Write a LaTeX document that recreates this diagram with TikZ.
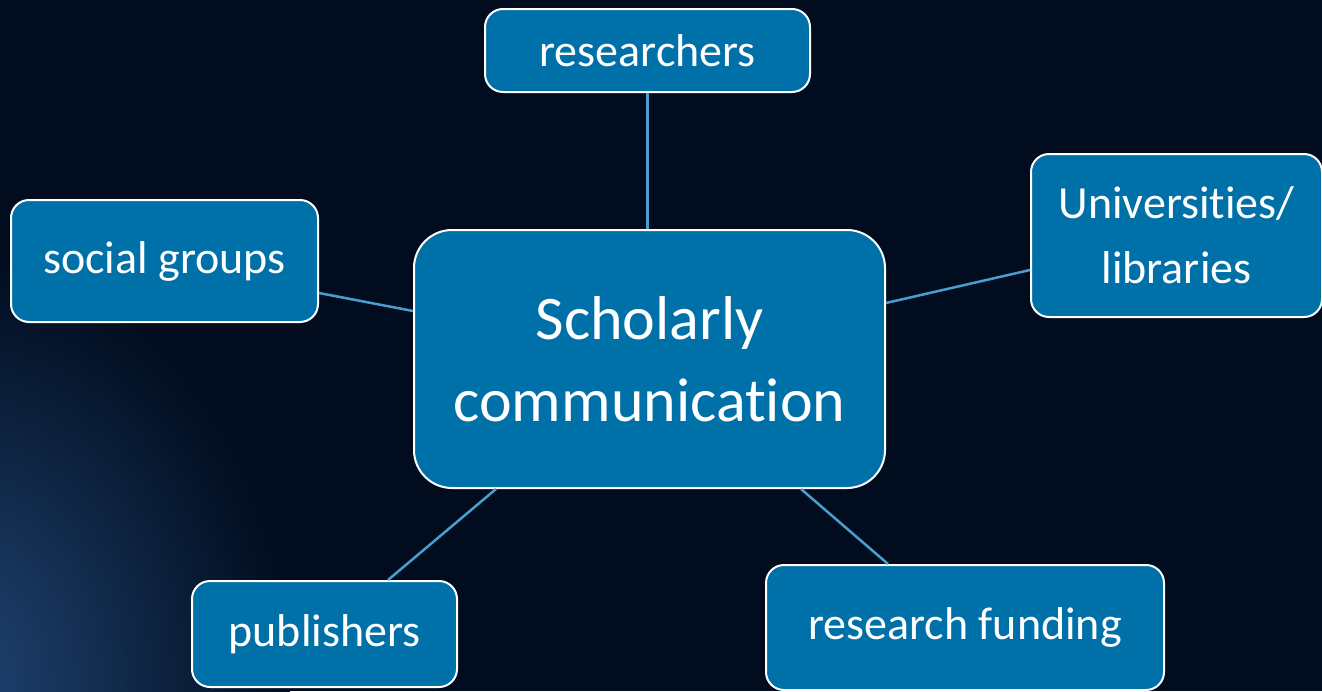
\documentclass[tikz,border=0pt]{standalone}
\usepackage{fontspec}
\setmainfont{Carlito}[Ligatures={NoCommon,NoRequired,NoContextual}]
\usetikzlibrary{calc}
\definecolor{bg}{RGB}{1,13,31}
\definecolor{boxfill}{RGB}{0,112,168}
\definecolor{link}{RGB}{74,158,207}
\definecolor{glow}{RGB}{32,68,115}
\tikzset{
  box/.style={draw=white, line width=2pt, fill=boxfill, text=white, rounded corners=18pt, inner sep=0pt, align=center, font=\fontsize{46}{65}\selectfont},
  bigbox/.style={box, rounded corners=38pt, font=\fontsize{62}{82}\selectfont},
  link/.style={draw=link, line width=2.5pt}
}
\begin{document}
\begin{tikzpicture}[x=1pt,y=-1pt]
\useasboundingbox (0,0) rectangle (1322,691);
\fill[bg] (0,0) rectangle (1322,691);
\begin{scope}
\clip (0,0) rectangle (1322,691);
\shade[inner color=glow, outer color=bg] (-40,680) ellipse[x radius=330pt, y radius=420pt];
\end{scope}
\node[bigbox, minimum width=471pt, minimum height=258pt] (cen) at (649.5,359) {Scholarly\\communication};
\node[box, minimum width=325pt, minimum height=83pt] (res) at (647.5,50.5) {researchers};
\node[box, minimum width=291pt, minimum height=163pt] (uni) at (1176.5,235.5) {Universities/\\libraries};
\node[box, minimum width=307pt, minimum height=122pt] (soc) at (164.5,261) {social groups};
\node[box, minimum width=265pt, minimum height=106pt] (pub) at (324.5,634) {publishers};
\node[box, minimum width=398pt, minimum height=125pt] (fund) at (965,627.5) {research funding};
\draw[link] (res.south) -- (res.south |- cen.north);
\draw[link] ($(soc.east)+(0,32)$) -- ($(cen.west)+(0,-48)$);
\draw[link] ($(uni.west)+(0,34.5)$) -- ($(cen.east)+(0,-56)$);
\draw[link] ($(pub.north)+(63.5,0)$) -- ($(cen.south)+(-153.5,0)$);
\draw[link] ($(fund.north)+(-77,0)$) -- ($(cen.south)+(151.5,0)$);
\end{tikzpicture}
\end{document}
